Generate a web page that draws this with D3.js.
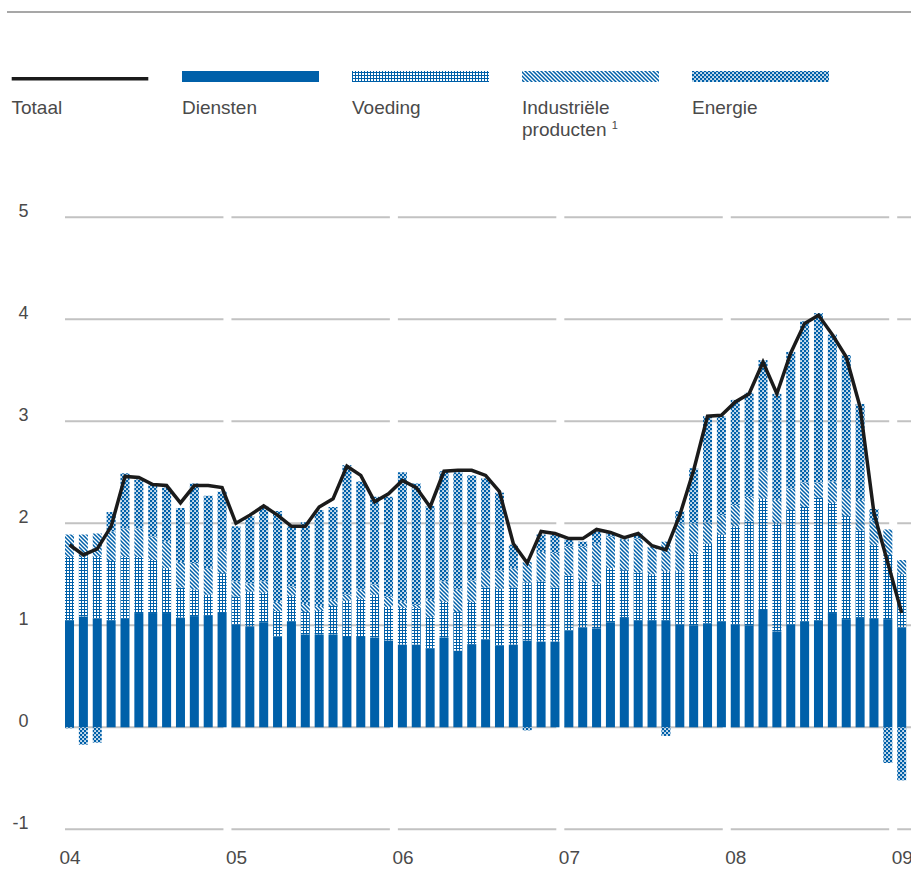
<!DOCTYPE html>
<html>
<head>
<meta charset="utf-8">
<script src="https://cdn.jsdelivr.net/npm/d3@7"></script>
<style>
  body { margin: 0; background: #fff; }
  svg { display: block; }
  text { font-family: "Liberation Sans", Arial, sans-serif; fill: #4a4a4a; }
</style>
</head>
<body>
<div id="chart"></div>
<script>
// months jan 2004 .. jan 2009
const months = [
  "2004-01","2004-02","2004-03","2004-04","2004-05","2004-06","2004-07","2004-08","2004-09","2004-10","2004-11","2004-12",
  "2005-01","2005-02","2005-03","2005-04","2005-05","2005-06","2005-07","2005-08","2005-09","2005-10","2005-11","2005-12",
  "2006-01","2006-02","2006-03","2006-04","2006-05","2006-06","2006-07","2006-08","2006-09","2006-10","2006-11","2006-12",
  "2007-01","2007-02","2007-03","2007-04","2007-05","2007-06","2007-07","2007-08","2007-09","2007-10","2007-11","2007-12",
  "2008-01","2008-02","2008-03","2008-04","2008-05","2008-06","2008-07","2008-08","2008-09","2008-10","2008-11","2008-12",
  "2009-01"
];
const yearLabels = ["04", "05", "06", "07", "08", "09"];
const yTicks = [-1, 0, 1, 2, 3, 4, 5];

// contributions per component
const diensten = [1.05,1.085,1.065,1.05,1.07,1.12,1.12,1.12,1.075,1.09,1.10,1.13,
  1.01,0.99,1.03,0.89,1.04,0.91,0.91,0.91,0.895,0.895,0.88,0.85,
  0.81,0.81,0.775,0.88,0.75,0.815,0.86,0.80,0.81,0.85,0.84,0.84,
  0.95,0.98,0.97,1.03,1.08,1.05,1.05,1.05,1.01,1.00,1.02,1.04,
  1.01,1.00,1.15,0.94,1.01,1.04,1.05,1.12,1.06,1.08,1.07,1.06,
  0.98];
const voeding = [0.62,0.585,0.605,0.58,0.60,0.55,0.52,0.44,0.295,0.26,0.20,0.38,
  0.27,0.34,0.29,0.25,0.25,0.22,0.23,0.28,0.345,0.365,0.42,0.33,
  0.36,0.36,0.305,0.35,0.38,0.415,0.51,0.56,0.56,0.57,0.59,0.53,
  0.54,0.46,0.44,0.53,0.46,0.47,0.45,0.48,0.52,0.70,0.78,0.85,
  0.96,1.02,1.09,1.06,1.12,1.12,1.20,1.08,1.01,0.85,0.72,0.63,
  0.52];
const industrie = [0.22,0.22,0.23,0.29,0.28,0.28,0.23,0.26,0.25,0.26,0.26,0.23,
  0.15,0.08,0.11,0.09,0.09,0.08,0.05,0.06,0.06,0.09,0.10,0.10,
  0.06,0.03,0.17,0.20,0.22,0.21,0.17,0.18,0.19,0.20,0.29,0.34,
  0.28,0.33,0.39,0.31,0.30,0.33,0.27,0.29,0.47,0.30,0.21,0.19,
  0.21,0.24,0.28,0.23,0.21,0.24,0.15,0.21,0.26,0.30,0.24,0.25,
  0.14];
const energie = [-0.01,-0.17,-0.15,0.19,0.54,0.48,0.51,0.53,0.53,0.78,0.71,0.57,
  0.54,0.66,0.74,0.89,0.59,0.80,0.94,0.91,1.27,1.06,0.86,0.98,
  1.27,1.19,0.92,1.08,1.15,1.03,0.90,0.76,0.23,-0.03,0.17,0.18,
  0.07,0.05,0.12,0.03,0.01,0.05,0.0,-0.085,0.12,0.54,1.04,0.97,
  1.03,1.02,1.08,1.04,1.34,1.58,1.66,1.44,1.32,0.94,0.11,-0.35,
  -0.52];
const totaal = [1.79,1.69,1.75,1.97,2.46,2.45,2.38,2.37,2.20,2.37,2.37,2.35,
  2.00,2.08,2.17,2.08,1.97,1.97,2.16,2.24,2.56,2.47,2.21,2.29,
  2.42,2.35,2.16,2.51,2.52,2.52,2.47,2.31,1.80,1.61,1.92,1.90,
  1.85,1.85,1.94,1.91,1.86,1.90,1.78,1.74,2.08,2.52,3.05,3.06,
  3.19,3.27,3.58,3.27,3.67,3.96,4.04,3.85,3.63,3.14,2.10,1.61,
  1.12];

const keys = ["diensten", "voeding", "industrie", "energie"];
const legendNames = ["Diensten", "Voeding", "Industriële", "Energie"];

const width = 911, height = 889;
const blue = "#0060a9";

const svg = d3.select("#chart").append("svg")
  .attr("width", width)
  .attr("height", height);

// fill patterns (transparent background so the grid shows through)
const defs = svg.append("defs");
const grid = defs.append("pattern").attr("id", "pat-voeding")
  .attr("patternUnits", "userSpaceOnUse").attr("width", 3).attr("height", 3);
grid.append("rect").attr("x", 0).attr("y", 0).attr("width", 1).attr("height", 3).attr("fill", blue);
grid.append("rect").attr("x", 0).attr("y", 0).attr("width", 3).attr("height", 1).attr("fill", blue);

const hatch = defs.append("pattern").attr("id", "pat-industrie")
  .attr("patternUnits", "userSpaceOnUse").attr("width", 4).attr("height", 4);
hatch.append("path").attr("d", "M-1,-1 L5,5 M-1,3 L1,5 M3,-1 L5,1")
  .attr("stroke", blue).attr("stroke-width", 1.5);

// energie: blue with small white cells in a checker layout
const cross = defs.append("pattern").attr("id", "pat-energie")
  .attr("patternUnits", "userSpaceOnUse").attr("width", 4).attr("height", 4);
cross.append("rect").attr("width", 4).attr("height", 4).attr("fill", blue);
cross.append("rect").attr("x", 0.2).attr("y", 0.2).attr("width", 1.7).attr("height", 1.7).attr("fill", "#fff");
cross.append("rect").attr("x", 2.2).attr("y", 2.2).attr("width", 1.7).attr("height", 1.7).attr("fill", "#fff");

const fills = {
  diensten: blue,
  voeding: "url(#pat-voeding)",
  industrie: "url(#pat-industrie)",
  energie: "url(#pat-energie)"
};

// top rule
svg.append("line")
  .attr("x1", 7).attr("x2", width).attr("y1", 12).attr("y2", 12)
  .attr("stroke", "#8a8a8a").attr("stroke-width", 1.5);

// scales
const step = 13.87;
const x = d3.scaleBand()
  .domain(months)
  .range([65, 65 + step * (months.length - 0.35)])
  .paddingInner(0.35)
  .paddingOuter(0)
  .align(0);

const y = d3.scaleLinear()
  .domain([-1, 5])
  .range([829.3, 217.3]);

// gridlines, one broken segment per year
const yearStarts = yearLabels.map((d, i) => months[i * 12]);
const gridG = svg.append("g");
yTicks.forEach(t => {
  gridG.selectAll(null)
    .data(yearStarts)
    .enter()
    .append("line")
      .attr("x1", d => x(d))
      .attr("x2", d => x(d) + x.step() * 12 - 8)
      .attr("y1", y(t)).attr("y2", y(t))
      .attr("stroke", "#c2c2c2")
      .attr("stroke-width", 2);
});

// y labels
svg.append("g").selectAll("text")
  .data(yTicks)
  .enter()
  .append("text")
    .attr("x", 28.5)
    .attr("y", d => y(d))
    .attr("text-anchor", "end")
    .style("font-size", "18px")
    .text(d => d);

// x labels
svg.append("g").selectAll("text")
  .data(yearLabels)
  .enter()
  .append("text")
    .attr("x", (d, i) => x(yearStarts[i]) - 5.5)
    .attr("y", 864)
    .style("font-size", "19px")
    .text(d => d);

// stacked bars
const table = months.map((m, i) => ({
  month: m,
  diensten: diensten[i],
  voeding: voeding[i],
  industrie: industrie[i],
  energie: energie[i]
}));

const series = d3.stack()
  .keys(keys)
  .offset(d3.stackOffsetDiverging)(table);

svg.append("g").selectAll("g")
  .data(series)
  .enter()
  .append("g")
    .attr("fill", d => fills[d.key])
  .selectAll("rect")
  .data(d => d)
  .enter()
  .append("rect")
    .attr("x", d => x(d.data.month))
    .attr("width", x.bandwidth())
    .attr("y", d => y(Math.max(d[0], d[1])))
    .attr("height", d => Math.abs(y(d[0]) - y(d[1])));

// total line
const line = d3.line()
  .x((d, i) => x(months[i]) + x.bandwidth() / 2)
  .y(d => y(d));

svg.append("path")
  .datum(totaal)
  .attr("d", line)
  .attr("fill", "none")
  .attr("stroke", "#1b1b1b")
  .attr("stroke-width", 3.5)
  .attr("stroke-linejoin", "miter");

// legend
const legend = svg.append("g");
legend.append("line")
  .attr("x1", 11.7).attr("x2", 148.3).attr("y1", 78.7).attr("y2", 78.7)
  .attr("stroke", "#1b1b1b").attr("stroke-width", 3.5);
legend.append("text")
  .attr("x", 11.5).attr("y", 114.3)
  .style("font-size", "19px")
  .text("Totaal");

const items = legend.selectAll("g.item")
  .data(keys)
  .enter()
  .append("g")
    .attr("class", "item")
    .attr("transform", (d, i) => `translate(${182 + i * 170}, 0)`);
items.append("rect")
  .attr("x", 0).attr("y", 71)
  .attr("width", 137).attr("height", 11)
  .attr("fill", d => fills[d]);
items.append("text")
  .attr("x", 0).attr("y", 114.3)
  .style("font-size", "19px")
  .text((d, i) => legendNames[i]);

// second line of the industrie label
const ind = items.filter(d => d === "industrie").select("text");
ind.append("tspan")
  .attr("x", 0).attr("dy", 21.5)
  .text("producten ");
ind.append("tspan")
  .attr("dy", -7)
  .style("font-size", "11px")
  .text("1");
</script>
</body>
</html>
